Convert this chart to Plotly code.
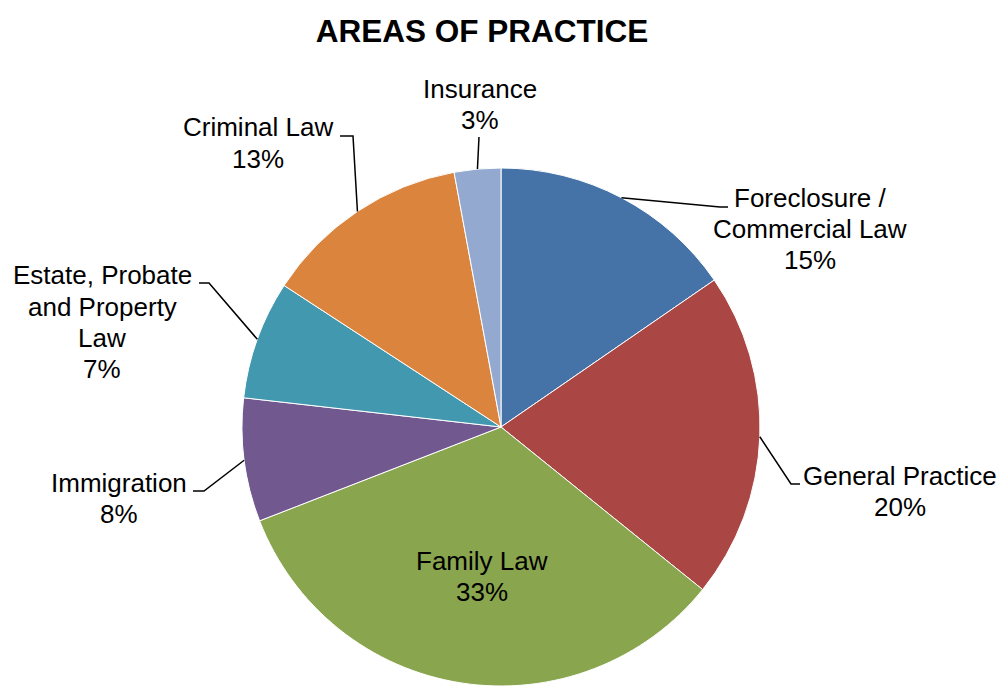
import math
import plotly.graph_objects as go

# Data (share of practice, clockwise from 12 o'clock)
areas = ["Foreclosure / Commercial Law", "General Practice", "Family Law",
         "Immigration", "Estate, Probate and Property Law", "Criminal Law", "Insurance"]
shares = [15.4, 20.4, 33.3, 7.7, 7.4, 12.9, 2.9]
label_lines = [["Foreclosure /", "Commercial Law"], ["General Practice"], ["Family Law"],
               ["Immigration"], ["Estate, Probate", "and Property", "Law"],
               ["Criminal Law"], ["Insurance"]]
colors = ["#4572A7", "#AA4643", "#89A54E", "#71588F", "#4198AF", "#DB843D", "#93A9CF"]

# page body has an 8px margin, so the figure is a bit smaller than the window
OFF = 8
W, H = 1008 - OFF, 686 - OFF
CX, CY, R = 501, 427, 259   # pie centre / radius in window pixels
LINE_H = 31

# label centre and leader-line elbow points (window pixels), None = inside label
label_pos = [(810, 229), (900, 491), (482, 576), (119, 498), (102, 322), (258, 143), (480, 105)]
leader = [[(720, 207), (728, 207)], [(791, 484), (800, 484)], None,
          [(204, 491), (193, 491)], [(209, 283), (199, 283)],
          [(353, 136), (340, 136)], [(479, 137)]]

FONT = "Arial, Liberation Sans, Helvetica, sans-serif"


def px(x, y):
    return (x - OFF) / W, 1 - (y - OFF) / H


fig = go.Figure()
fig.add_trace(go.Pie(
    labels=areas, values=shares, sort=False, direction="clockwise", rotation=0,
    marker=dict(colors=colors, line=dict(color="white", width=1)),
    textinfo="none", hoverinfo="label+percent", showlegend=False,
    domain=dict(x=[(CX - R - OFF) / W, (CX + R - OFF) / W],
                y=[1 - (CY + R - OFF) / H, 1 - (CY - R - OFF) / H]),
))

total = sum(shares)
cum = 0
shapes = []
annotations = []
for i, v in enumerate(shares):
    mid = (cum + v / 2) / total * 2 * math.pi
    cum += v
    ax_, ay_ = CX + R * math.sin(mid), CY - R * math.cos(mid)
    lines = label_lines[i] + [f"{round(v / total * 100)}%"]
    cx, cy = label_pos[i]
    for k, line in enumerate(lines):
        lx, ly = px(cx, cy + (k - (len(lines) - 1) / 2) * LINE_H)
        annotations.append(dict(
            x=lx, y=ly, xref="paper", yref="paper", showarrow=False,
            xanchor="center", yanchor="middle", text=line,
            font=dict(family=FONT, size=26, color="black"),
        ))
    if leader[i]:
        pts = [(ax_, ay_)] + leader[i]
        path = "M " + " L ".join(f"{px(x, y)[0]},{px(x, y)[1]}" for x, y in pts)
        shapes.append(dict(type="path", path=path, xref="paper", yref="paper",
                           line=dict(color="black", width=1.5)))

tx, ty = px(482, 31)
fig.update_layout(
    width=W, height=H,
    margin=dict(l=0, r=0, t=0, b=0),
    paper_bgcolor="white", plot_bgcolor="white",
    title=dict(text="<b>AREAS OF PRACTICE</b>", x=tx, y=ty,
               xanchor="center", yanchor="middle",
               font=dict(family=FONT, size=31.5, color="black")),
    shapes=shapes, annotations=annotations,
)

fig.write_html("out.html")
